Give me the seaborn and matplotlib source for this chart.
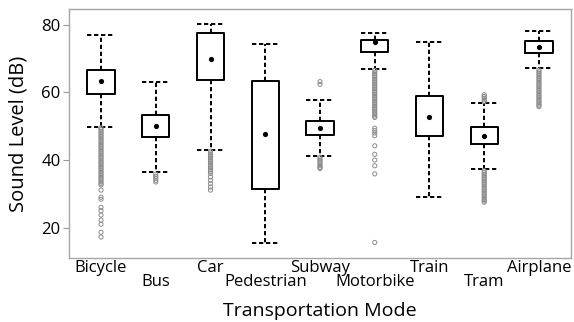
import matplotlib
matplotlib.use("Agg")
import matplotlib.pyplot as plt
import numpy as np
import pandas as pd
import seaborn as sns

# Box statistics per transportation mode (dB)
modes = ["Bicycle", "Bus", "Car", "Pedestrian", "Subway",
         "Motorbike", "Train", "Tram", "Airplane"]
whisker_low = [49.7, 36.4, 43.1, 15.4, 41.3, 67.0, 29.0, 37.3, 67.1]
q1 = [59.6, 46.7, 63.7, 31.5, 47.5, 71.9, 47.1, 44.7, 71.8]
q3 = [66.6, 53.3, 77.5, 63.4, 51.6, 75.4, 58.9, 49.7, 75.1]
whisker_high = [76.9, 63.0, 80.2, 74.4, 57.9, 77.5, 74.8, 56.8, 78.2]
means = [63.4, 50.1, 70.0, 47.7, 49.6, 75.0, 52.7, 47.1, 73.6]

# Outlying measurements per mode
bicycle_out = [49.5, 49.0, 48.5, 48.0, 47.5, 47.0, 46.5, 46.0, 45.5, 45.0, 44.5, 44.0,
               43.5, 43.0, 42.5, 42.0, 41.5, 41.0, 40.5, 40.0, 39.5, 39.0, 38.5, 38.0,
               37.5, 37.0, 36.5, 36.0, 35.5, 35.0, 34.5, 34.0, 33.5, 33.0, 32.6, 31.1,
               29.0, 28.4, 26.0, 25.0, 23.7, 22.2, 21.0, 18.6, 17.2]
bus_out = [35.8, 35.2, 34.6, 34.0, 33.5]
car_out = [42.6, 42.1, 41.6, 41.1, 40.6, 40.1, 39.6, 39.1, 38.6, 38.1, 37.6, 37.1,
           36.6, 36.0, 35.0, 34.0, 33.0, 32.0, 31.1]
pedestrian_out = []
subway_out = [63.2, 62.4, 40.8, 40.3, 39.8, 39.3, 38.8, 38.3, 37.8, 37.5]
motorbike_out = [66.5, 66.0, 65.5, 65.0, 64.5, 64.0, 63.5, 63.0, 62.5, 62.0, 61.5,
                 61.0, 60.5, 60.0, 59.5, 59.0, 58.5, 58.0, 57.5, 57.0, 56.5, 56.0,
                 55.5, 55.0, 54.5, 54.0, 53.5, 53.0, 52.6, 49.4, 48.7, 48.0, 47.2,
                 44.2, 41.7, 40.0, 38.3, 35.9, 15.6]
train_out = []
tram_out = [57.3, 57.8, 58.3, 58.8, 59.3, 36.8, 36.3, 35.8, 35.3, 34.8, 34.3, 33.8,
            33.3, 32.8, 32.3, 31.8, 31.3, 30.8, 30.3, 29.8, 29.3, 28.8, 28.3, 27.9,
            27.5]
airplane_out = [66.6, 66.1, 65.6, 65.1, 64.6, 64.1, 63.6, 63.1, 62.6, 62.1, 61.6,
                61.1, 60.6, 60.1, 59.6, 59.1, 58.6, 58.1, 57.6, 57.1, 56.6, 56.2, 55.8]
outlier_lists = [bicycle_out, bus_out, car_out, pedestrian_out, subway_out,
                 motorbike_out, train_out, tram_out, airplane_out]

sns.set_theme(style="white")
plt.rcParams["font.family"] = ["Open Sans", "DejaVu Sans"]

fig = plt.figure(figsize=(5.74, 3.22), dpi=100)
ax = fig.add_axes([69 / 574, 1 - 258 / 322, (571 - 69) / 574, (258 - 9) / 322])

stats = []
for i, m in enumerate(modes):
    stats.append(dict(label=m, whislo=whisker_low[i], q1=q1[i], med=means[i],
                      q3=q3[i], whishi=whisker_high[i], fliers=[]))

ax.bxp(stats, positions=range(len(modes)), widths=0.5, showfliers=False,
       boxprops=dict(color="black", linewidth=1.4),
       whiskerprops=dict(color="black", linewidth=1.4, linestyle=(0, (2.2, 1.4))),
       capprops=dict(color="black", linewidth=1.4, linestyle=(0, (2.2, 1.4))),
       medianprops=dict(linewidth=0),
       capwidths=0.5)

out_df = pd.DataFrame({
    "pos": [i for i, lst in enumerate(outlier_lists) for _ in lst],
    "level": [v for lst in outlier_lists for v in lst],
})
sns.scatterplot(data=out_df, x="pos", y="level", ax=ax, marker="o", s=9,
                color="none", edgecolor="#8c8c8c", linewidth=0.7, zorder=3)

mean_df = pd.DataFrame({"pos": range(len(modes)), "level": means})
sns.scatterplot(data=mean_df, x="pos", y="level", ax=ax, marker="o", s=14,
                color="black", edgecolor="black", linewidth=0, zorder=4)

ax.set_xlim(-0.585, 8.585)
ax.set_ylim(11.0, 84.7)
ax.set_yticks([20, 40, 60, 80])
ax.set_xticks(range(len(modes)))
ax.set_xticklabels(modes)
ax.tick_params(axis="y", labelsize=12, length=4, width=0.8, color="#999999",
               left=True, pad=2, labelcolor="black")
ax.tick_params(axis="x", labelsize=12, length=0, labelcolor="black")
for i, t in enumerate(ax.xaxis.get_major_ticks()):
    t.set_pad(1.5 if i % 2 == 0 else 11.5)

for s in ax.spines.values():
    s.set_color("#a6a6a6")
    s.set_linewidth(1.0)

ax.set_xlabel("Transportation Mode", fontsize=14, labelpad=9, color="black")
ax.set_ylabel("Sound Level (dB)", fontsize=14.5, labelpad=9, color="black")

fig.savefig("out.png", dpi=100)
